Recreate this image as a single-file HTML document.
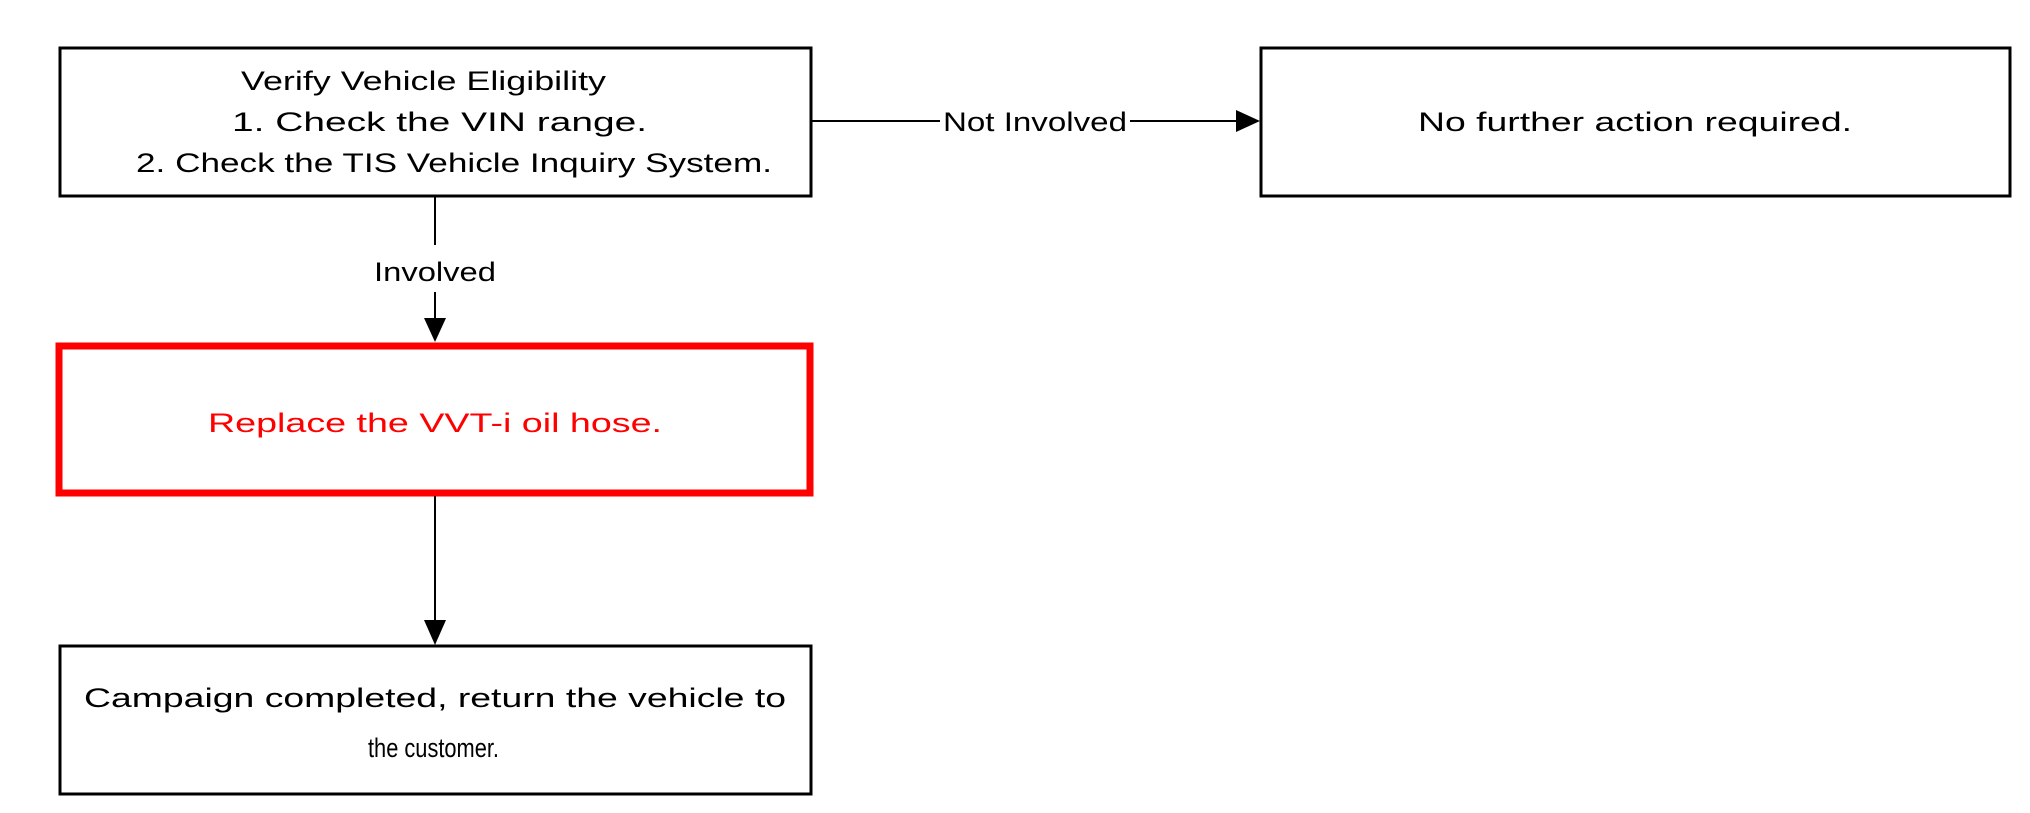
<!DOCTYPE html>
<html><head><meta charset="utf-8"><style>
html,body{margin:0;padding:0;background:#fff;}
svg{display:block;}
text{font-family:"Liberation Sans",Arial,sans-serif;font-size:27px;}
</style></head><body>
<svg width="2030" height="813" viewBox="0 0 2030 813" xmlns="http://www.w3.org/2000/svg">
<rect width="2030" height="813" fill="#fff"/>
<!-- box 1 -->
<rect x="60" y="48" width="751" height="148" fill="none" stroke="#000" stroke-width="3"/>
<text x="241" y="90" textLength="365" lengthAdjust="spacingAndGlyphs">Verify Vehicle Eligibility</text>
<text x="232" y="131" textLength="415" lengthAdjust="spacingAndGlyphs">1. Check the VIN range.</text>
<text x="136" y="172" textLength="636" lengthAdjust="spacingAndGlyphs">2. Check the TIS Vehicle Inquiry System.</text>
<!-- right box -->
<rect x="1261" y="48" width="749" height="148" fill="none" stroke="#000" stroke-width="3"/>
<text x="1418" y="131" textLength="434" lengthAdjust="spacingAndGlyphs">No further action required.</text>
<!-- horizontal connector -->
<line x1="811" y1="121" x2="940" y2="121" stroke="#000" stroke-width="2"/>
<line x1="1130" y1="121" x2="1238" y2="121" stroke="#000" stroke-width="2"/>
<polygon points="1236,110 1260,121 1236,132" fill="#000"/>
<text x="943" y="131" textLength="184" lengthAdjust="spacingAndGlyphs">Not Involved</text>
<!-- vertical 1 -->
<line x1="435" y1="196" x2="435" y2="245" stroke="#000" stroke-width="2"/>
<line x1="435" y1="292" x2="435" y2="322" stroke="#000" stroke-width="2"/>
<polygon points="424,318 435,342 446,318" fill="#000"/>
<text x="374" y="281" textLength="122" lengthAdjust="spacingAndGlyphs">Involved</text>
<!-- red box -->
<rect x="59" y="346" width="751" height="147" fill="none" stroke="#ff0000" stroke-width="7"/>
<text x="208" y="432" fill="#ff0000" textLength="454" lengthAdjust="spacingAndGlyphs">Replace the VVT-i oil hose.</text>
<!-- vertical 2 -->
<line x1="435" y1="496" x2="435" y2="625" stroke="#000" stroke-width="2"/>
<polygon points="424,620 435,645 446,620" fill="#000"/>
<!-- bottom box -->
<rect x="60" y="646" width="751" height="148" fill="none" stroke="#000" stroke-width="3"/>
<text x="84" y="707" textLength="702" lengthAdjust="spacingAndGlyphs">Campaign completed, return the vehicle to</text>
<text x="368" y="757" textLength="131" lengthAdjust="spacingAndGlyphs">the customer.</text>
</svg>
</body></html>
